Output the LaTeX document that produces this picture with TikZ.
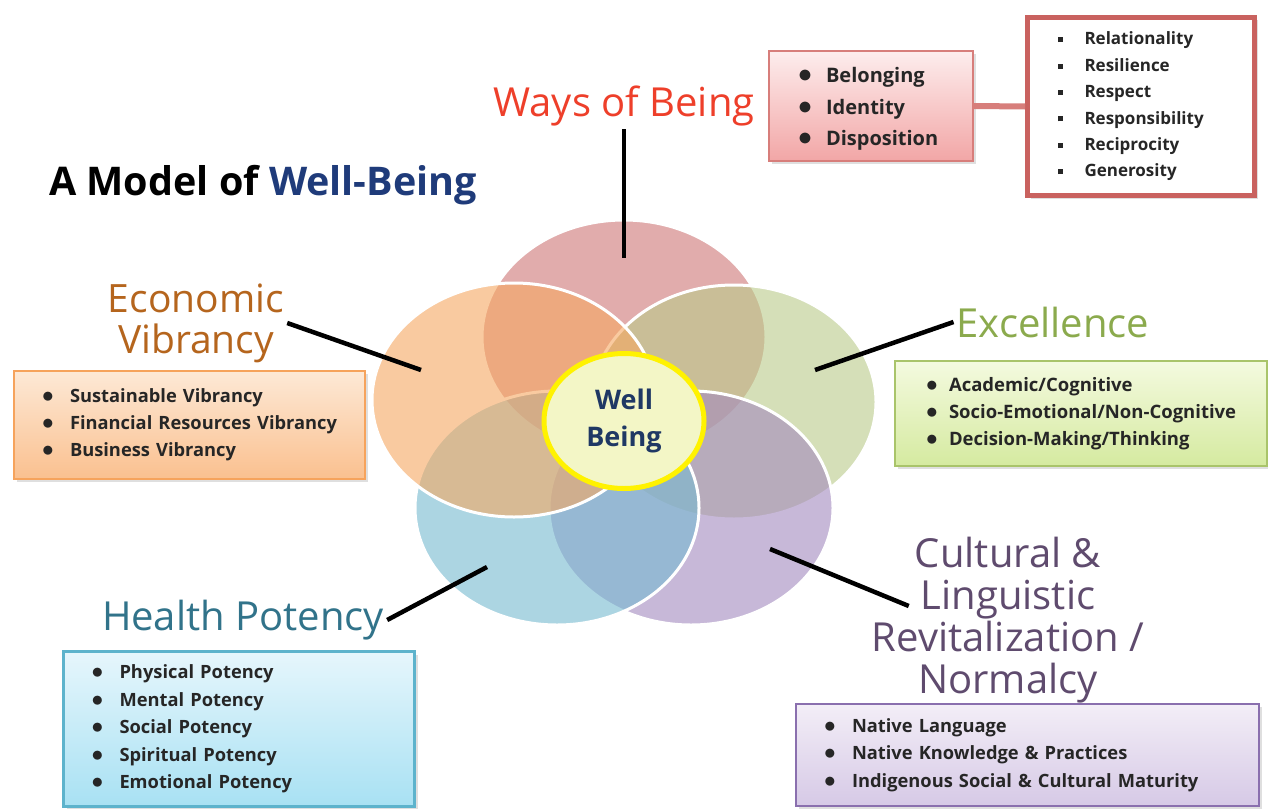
\documentclass[tikz,border=0pt]{standalone}
\usepackage{fontspec}
\setmainfont{Open Sans}
\usetikzlibrary{shapes.geometric,shadows}
\definecolor{cPink}{RGB}{205,118,118}
\definecolor{cOrange}{RGB}{245,168,97}
\definecolor{cGreen}{RGB}{185,203,137}
\definecolor{cBlue}{RGB}{118,185,208}
\definecolor{cPurple}{RGB}{163,137,190}
\definecolor{tWays}{HTML}{EE3F2A}
\definecolor{tEcon}{HTML}{B5651D}
\definecolor{tExc}{HTML}{8BAA4D}
\definecolor{tHealth}{HTML}{31738A}
\definecolor{tCult}{HTML}{5F4B6E}
\definecolor{tTitle}{HTML}{1F3B7A}
\definecolor{tWell}{HTML}{1F3864}
\definecolor{tItem}{HTML}{262626}
\definecolor{wbFill}{HTML}{F3F6C6}
\definecolor{wbLine}{HTML}{FFF200}
\definecolor{bPinkT}{HTML}{FDEDED}
\definecolor{bPinkB}{HTML}{F2A6A6}
\definecolor{bPinkL}{HTML}{D77E7B}
\definecolor{bRedL}{HTML}{C9625F}
\definecolor{bOrT}{HTML}{FDE9D6}
\definecolor{bOrB}{HTML}{FAC08F}
\definecolor{bOrL}{HTML}{F6A35C}
\definecolor{bGrT}{HTML}{F4FADF}
\definecolor{bGrB}{HTML}{D5EAA0}
\definecolor{bGrL}{HTML}{A9C46A}
\definecolor{bBlT}{HTML}{E6F6FC}
\definecolor{bBlB}{HTML}{A8E1F3}
\definecolor{bBlL}{HTML}{5DB3CC}
\definecolor{bPuT}{HTML}{F3EEF7}
\definecolor{bPuB}{HTML}{D6C9E6}
\definecolor{bPuL}{HTML}{8A6FAE}
\newcommand\fsz[2]{\fontsize{#1}{#2}\selectfont}
\newcommand\bitem[2]{\mbox{\makebox[#1][l]{\scalebox{1.35}{$\bullet$}}#2}}
\newcommand\sitem[2]{\mbox{\makebox[#1][l]{\raisebox{0.3ex}{\rule{5pt}{5pt}}}#2}}
\hyphenpenalty=10000
\exhyphenpenalty=10000
\hfuzz=50pt
\begin{document}
\begin{tikzpicture}[x=1pt,y=-1pt,
  petal/.style={fill opacity=0.6, draw=white, draw opacity=1, line width=3pt},
  label/.style={inner sep=3pt, align=center},
  conn/.style={line width=4.5pt, black},
  listbox/.style={anchor=north west, align=left, inner ysep=0pt, text=tItem,
     drop shadow={opacity=0.25, shadow xshift=3pt, shadow yshift=-3pt}}
]
\useasboundingbox (0,0) rectangle (1268,808);
\fill[white] (0,0) rectangle (1268,808);

% petals
\draw[petal, fill=cPink]   (624,337) ellipse [x radius=142, y radius=117];
\draw[petal, fill=cGreen]  (734,402) ellipse [x radius=142, y radius=117];
\draw[petal, fill=cPurple] (691,508) ellipse [x radius=142, y radius=117];
\draw[petal, fill=cBlue]   (557,508) ellipse [x radius=142, y radius=117];
\draw[petal, fill=cOrange] (514,400) ellipse [x radius=142, y radius=117];

% centre
\node[ellipse, minimum width=160pt, minimum height=135pt, fill=wbFill, draw=wbLine,
  line width=5pt, align=center, text=tWell, font=\fsz{27}{37}\bfseries] (wb) at (624,421) {Well\\Being};

% title
\node[label, font=\fsz{39.5}{44}\bfseries] (title) at (263,185) {A Model of \textcolor{tTitle}{Well-Being}};

% labels
\node[label, text=tWays, font=\fsz{40}{44}] (ways) at (624,106) {Ways of Being};
\node[label, text=tEcon, font=\fsz{39}{41}] (econ) at (196,323) {Economic\\Vibrancy};
\node[label, text=tExc, font=\fsz{40}{44}] (exc) at (1053,322) {Excellence};
\node[label, text=tHealth, font=\fsz{40}{44}] (health) at (243,620) {Health Potency};
\node[label, text=tCult, font=\fsz{40}{42}] (cult) at (1008,620) {Cultural \&\\Linguistic\\Revitalization /\\Normalcy};

% connector ends
\coordinate (wc) at (624,258);
\coordinate (ec) at (421,370);
\coordinate (xc) at (815,370);
\coordinate (hc) at (487,567);
\coordinate (cc) at (770,549);
\draw[conn] (ways.south) -- (wc);
\draw[conn] (econ.east) -- (ec);
\draw[conn] (exc.west) -- (xc);
\draw[conn] (health.east) -- (hc);
\draw[conn] ([xshift=40pt,yshift=14pt]cult.west) -- (cc);

% boxes
\node[listbox, top color=bPinkT, bottom color=bPinkB, draw=bPinkL, line width=2pt,
  text width=146pt, inner xsep=29pt, minimum height=110pt, font=\fsz{20}{31.5}\bfseries]
  (b1) at (768,50) {\rule{0pt}{21pt}\bitem{28pt}{Belonging}\\\bitem{28pt}{Identity}\\\bitem{28pt}{Disposition}};
\node[listbox, fill=white, draw=bRedL, line width=5pt,
  text width=167pt, inner xsep=30pt, minimum height=178pt, font=\fsz{17}{26.4}\bfseries]
  (b2) at (1025,15) {\sitem{27pt}{Relationality}\\\sitem{27pt}{Resilience}\\\sitem{27pt}{Respect}\\\sitem{27pt}{Responsibility}\\\sitem{27pt}{Reciprocity}\\\sitem{27pt}{Generosity}};
\draw[line width=6pt, bPinkL] (b1.east) -- (b2.west);

\node[listbox, top color=bOrT, bottom color=bOrB, draw=bOrL, line width=2pt,
  text width=295pt, inner xsep=28pt, minimum height=108pt, font=\fsz{18.3}{27}\bfseries]
  (eb) at (13,370) {\bitem{28pt}{Sustainable Vibrancy}\\\bitem{28pt}{Financial Resources Vibrancy}\\\bitem{28pt}{Business Vibrancy}};

\node[listbox, top color=bGrT, bottom color=bGrB, draw=bGrL, line width=2pt,
  text width=310pt, inner xsep=31pt, minimum height=105pt, font=\fsz{18.5}{27}\bfseries]
  (xb) at (894,360) {\bitem{23pt}{Academic/Cognitive}\\\bitem{23pt}{Socio-Emotional/Non-Cognitive}\\\bitem{23pt}{Decision-Making/Thinking}};

\node[listbox, top color=bBlT, bottom color=bBlB, draw=bBlL, line width=3pt,
  text width=295pt, inner xsep=28pt, minimum height=155pt, font=\fsz{18.3}{27.5}\bfseries]
  (hb) at (62,650) {\bitem{28pt}{Physical Potency}\\\bitem{28pt}{Mental Potency}\\\bitem{28pt}{Social Potency}\\\bitem{28pt}{Spiritual Potency}\\\bitem{28pt}{Emotional Potency}};

\node[listbox, top color=bPuT, bottom color=bPuB, draw=bPuL, line width=2pt,
  text width=407pt, inner xsep=28pt, minimum height=102pt, font=\fsz{18.3}{27.5}\bfseries]
  (cb) at (795,703) {\bitem{28pt}{Native Language}\\\bitem{28pt}{Native Knowledge \& Practices}\\\bitem{28pt}{Indigenous Social \& Cultural Maturity}};
\end{tikzpicture}
\end{document}
